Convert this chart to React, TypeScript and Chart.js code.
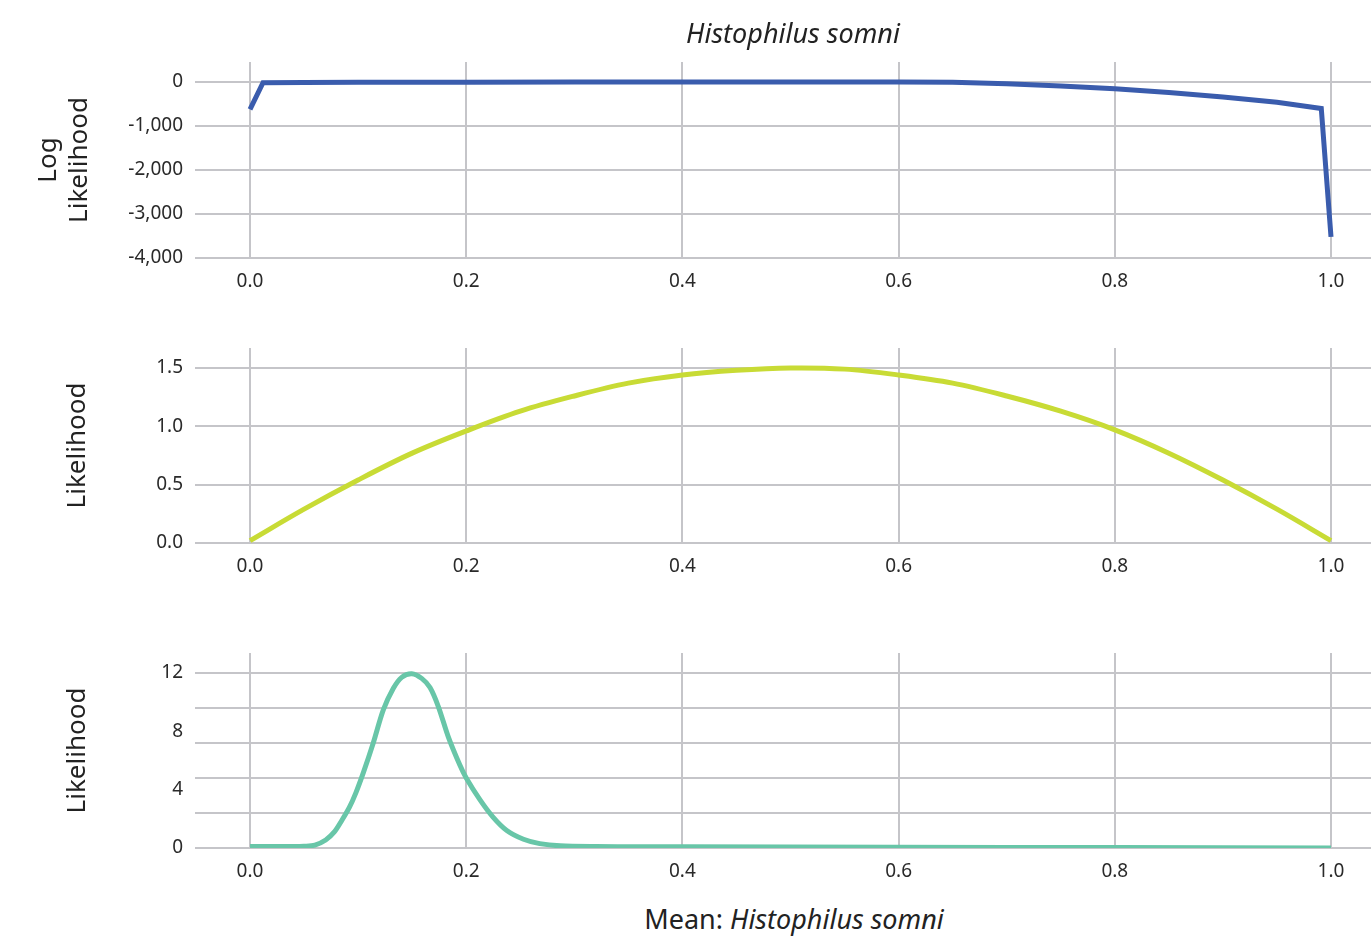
import React, { useEffect, useRef } from "react";
import { Chart, registerables } from "chart.js";

Chart.register(...registerables);

// ---------- data ----------
const xTickValues = [0, 0.2, 0.4, 0.6, 0.8, 1.0];

// Panel 1: log likelihood
const logX = [0, 0.012, 0.05, 0.1, 0.2, 0.3, 0.4, 0.5, 0.6, 0.65, 0.7, 0.75, 0.8, 0.85, 0.9, 0.95, 0.991, 1.0];
const logY = [-620, -15, -12, -8, -4, -2, 0, 0, 0, -5, -40, -90, -155, -240, -340, -460, -600, -3520];
const logTicks = [-4000, -3000, -2000, -1000, 0];

// Panel 2: likelihood (prior)
const priorX = [0, 0.05, 0.1, 0.15, 0.2, 0.25, 0.3, 0.35, 0.4, 0.45, 0.5, 0.55, 0.6, 0.65, 0.7, 0.75, 0.8, 0.85, 0.9, 0.95, 1.0];
const priorY = [0.02, 0.29, 0.54, 0.77, 0.96, 1.13, 1.26, 1.37, 1.44, 1.48, 1.5, 1.49, 1.44, 1.37, 1.26, 1.13, 0.97, 0.77, 0.54, 0.29, 0.02];
const priorTicks = [0, 0.5, 1.0, 1.5];

// Panel 3: likelihood (posterior)
const postX = [0, 0.02, 0.04, 0.05, 0.06, 0.07, 0.078, 0.085, 0.092, 0.098, 0.105, 0.114, 0.1233, 0.1326, 0.1403, 0.1496, 0.1588, 0.1665, 0.1742, 0.1835, 0.194, 0.2, 0.2128, 0.225, 0.2375, 0.253, 0.268, 0.287, 0.32, 0.36, 0.4, 0.6, 0.8, 1.0];
const postY = [0.1, 0.1, 0.1, 0.12, 0.2, 0.55, 1.1, 1.9, 2.8, 3.8, 5.2, 7.2, 9.47, 10.95, 11.7, 11.95, 11.63, 11.0, 9.7, 7.6, 5.7, 4.8, 3.3, 2.1, 1.2, 0.6, 0.3, 0.15, 0.1, 0.09, 0.08, 0.05, 0.03, 0.0];
const postLabelTicks = [0, 4, 8, 12];
const postGridTicks = [0, 2.4, 4.8, 7.2, 9.6, 12];

const titleText = "Histophilus somni";
const xLabelPrefix = "Mean: ";

const FONT = "'Noto Sans', sans-serif";
const GRID = "#c5c5c9";
const TICK = "#2a2a2a";
const PAD_TOP = 30;

type PanelCfg = {
  top: number;
  areaH: number;
  xs: number[];
  ys: number[];
  color: string;
  yMin: number;
  yMax: number;
  tickVals: number[];
  gridVals: number[];
  labelVals: number[];
  fmt: (v: number) => string;
  title: string | string[];
  titlePad: number;
  tension: number;
};

const panels: PanelCfg[] = [
  {
    top: 62, areaH: 196, xs: logX, ys: logY, color: "#3a5cad",
    yMin: -4000, yMax: 455, tickVals: logTicks, gridVals: logTicks, labelVals: logTicks,
    fmt: (v) => v.toLocaleString("en-US"), title: ["Log", "Likelihood"], titlePad: 33, tension: 0,
  },
  {
    top: 348, areaH: 195, xs: priorX, ys: priorY, color: "#c8db35",
    yMin: 0, yMax: 1.671, tickVals: priorTicks, gridVals: priorTicks, labelVals: priorTicks,
    fmt: (v) => v.toFixed(1), title: "Likelihood", titlePad: 62, tension: 0.35,
  },
  {
    top: 653, areaH: 195, xs: postX, ys: postY, color: "#68c6a8",
    yMin: 0, yMax: 13.37, tickVals: [0, 2.4, 4, 4.8, 7.2, 8, 9.6, 12], gridVals: postGridTicks, labelVals: postLabelTicks,
    fmt: (v) => String(v), title: "Likelihood", titlePad: 62, tension: 0.3,
  },
];

function Panel({ cfg }: { cfg: PanelCfg }) {
  const ref = useRef<HTMLCanvasElement>(null);
  useEffect(() => {
    if (!ref.current) return;
    const near = (a: number, b: number) => Math.abs(a - b) < 1e-6;
    const chart = new Chart(ref.current, {
      type: "line",
      data: {
        datasets: [
          {
            data: cfg.xs.map((x, i) => ({ x, y: cfg.ys[i] })),
            borderColor: cfg.color,
            borderWidth: 5,
            pointRadius: 0,
            fill: false,
            tension: cfg.tension,
            borderJoinStyle: "miter",
            borderCapStyle: "butt",
          },
        ],
      },
      options: {
        responsive: false,
        animation: false,
        devicePixelRatio: 1,
        layout: { padding: { top: PAD_TOP, left: 0, right: 0, bottom: 0 } },
        plugins: { legend: { display: false }, tooltip: { enabled: false }, title: { display: false } },
        scales: {
          x: {
            type: "linear",
            min: -0.0509,
            max: 1.037,
            afterBuildTicks: (s: any) => { s.ticks = xTickValues.map((v) => ({ value: v })); },
            afterFit: (s: any) => { s.height = 40; },
            grid: { color: GRID, lineWidth: 2, drawTicks: false },
            border: { display: false },
            ticks: {
              padding: 12,
              autoSkip: false,
              color: TICK,
              font: { family: FONT, size: 19 },
              maxRotation: 0,
              callback: (v: any) => Number(v).toFixed(1),
            },
          },
          y: {
            type: "linear",
            min: cfg.yMin,
            max: cfg.yMax,
            afterBuildTicks: (s: any) => { s.ticks = cfg.tickVals.map((v) => ({ value: v })); },
            afterFit: (s: any) => { s.width = 195; },
            grid: {
              drawTicks: false,
              lineWidth: 2,
              color: (ctx: any) => (cfg.gridVals.some((g) => near(g, ctx.tick?.value)) ? GRID : "rgba(0,0,0,0)"),
            },
            border: { display: false },
            title: {
              display: true,
              text: cfg.title,
              color: "#222",
              font: { family: FONT, size: 26 },
              padding: { top: cfg.titlePad, bottom: 0 },
            },
            ticks: {
              padding: 12,
              autoSkip: false,
              color: TICK,
              font: { family: FONT, size: 19 },
              callback: (v: any) => (cfg.labelVals.some((l) => near(l, Number(v))) ? cfg.fmt(Number(v)) : ""),
            },
          },
        },
      } as any,
    });
    return () => chart.destroy();
  }, [cfg]);
  const h = cfg.areaH + 40 + PAD_TOP;
  return (
    <canvas
      ref={ref}
      width={1371}
      height={h}
      style={{ position: "absolute", left: 0, top: cfg.top - PAD_TOP, width: 1371, height: h }}
    />
  );
}

export default function App() {
  return (
    <div style={{ position: "fixed", left: 0, top: 0, width: 1371, height: 937, background: "#fff", overflow: "hidden", fontFamily: FONT }}>
      {panels.map((p, i) => (
        <Panel key={i} cfg={p} />
      ))}
      <div
        style={{
          position: "absolute", left: 793, top: 17, transform: "translateX(-50%)",
          fontSize: 27, lineHeight: "32px", fontStyle: "italic", color: "#222", whiteSpace: "nowrap",
        }}
      >
        {titleText}
      </div>
      <div
        style={{
          position: "absolute", left: 794, top: 903, transform: "translateX(-50%)",
          fontSize: 27, lineHeight: "32px", color: "#222", whiteSpace: "nowrap",
        }}
      >
        {xLabelPrefix}
        <span style={{ fontStyle: "italic" }}>{titleText}</span>
      </div>
    </div>
  );
}
